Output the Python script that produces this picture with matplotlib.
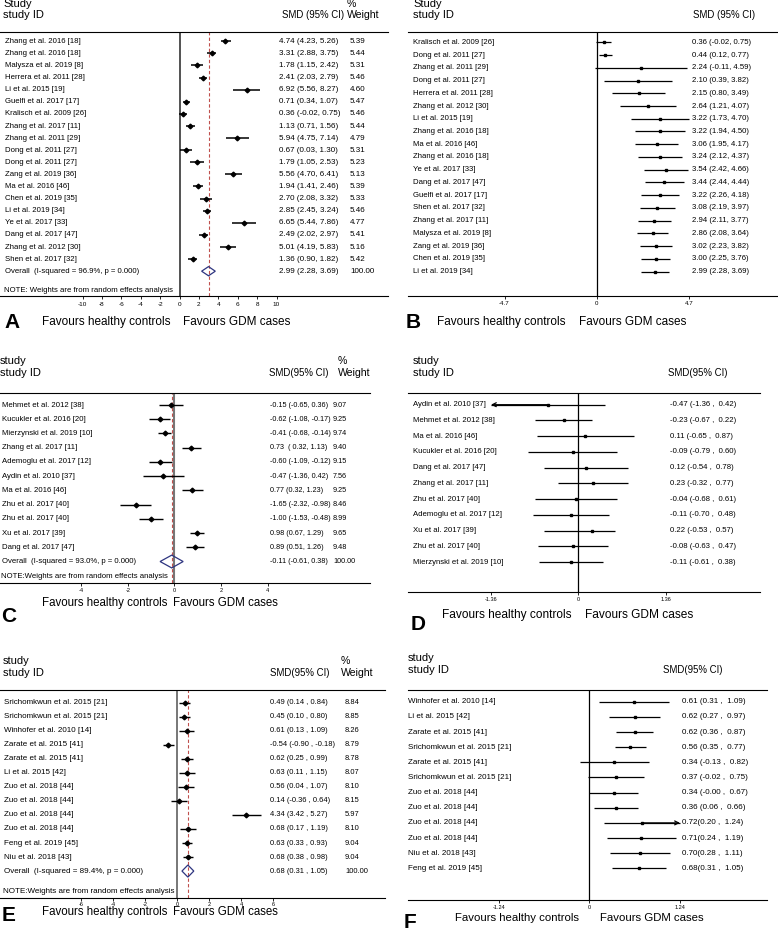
import matplotlib
matplotlib.use('Agg')
import matplotlib.pyplot as plt
from matplotlib.patches import Polygon
from matplotlib import transforms

plt.rcParams['font.family'] = ['Liberation Sans', 'DejaVu Sans']

W, H = 778, 930

# ---------------- panel A ----------------
a_study = ['Zhang et al. 2016 [18]', 'Zhang et al. 2016 [18]', 'Malysza et al. 2019 [8]',
           'Herrera et al. 2011 [28]', 'Li et al. 2015 [19]', 'Guelfi et al. 2017 [17]',
           'Kralisch et al. 2009 [26]', 'Zhang et al. 2017 [11]', 'Zhang et al. 2011 [29]',
           'Dong et al. 2011 [27]', 'Dong et al. 2011 [27]', 'Zang et al. 2019 [36]',
           'Ma et al. 2016 [46]', 'Chen et al. 2019 [35]', 'Li et al. 2019 [34]',
           'Ye et al. 2017 [33]', 'Dang et al. 2017 [47]', 'Zhang et al. 2012 [30]',
           'Shen et al. 2017 [32]']
a_est = [4.74, 3.31, 1.78, 2.41, 6.92, 0.71, 0.36, 1.13, 5.94, 0.67, 1.79, 5.56, 1.94, 2.70, 2.85, 6.65, 2.49, 5.01, 1.36]
a_lo = [4.23, 2.88, 1.15, 2.03, 5.56, 0.34, -0.02, 0.71, 4.75, 0.03, 1.05, 4.70, 1.41, 2.08, 2.45, 5.44, 2.02, 4.19, 0.90]
a_hi = [5.26, 3.75, 2.42, 2.79, 8.27, 1.07, 0.75, 1.56, 7.14, 1.30, 2.53, 6.41, 2.46, 3.32, 3.24, 7.86, 2.97, 5.83, 1.82]
a_ci = ['4.74 (4.23, 5.26)', '3.31 (2.88, 3.75)', '1.78 (1.15, 2.42)', '2.41 (2.03, 2.79)',
        '6.92 (5.56, 8.27)', '0.71 (0.34, 1.07)', '0.36 (-0.02, 0.75)', '1.13 (0.71, 1.56)',
        '5.94 (4.75, 7.14)', '0.67 (0.03, 1.30)', '1.79 (1.05, 2.53)', '5.56 (4.70, 6.41)',
        '1.94 (1.41, 2.46)', '2.70 (2.08, 3.32)', '2.85 (2.45, 3.24)', '6.65 (5.44, 7.86)',
        '2.49 (2.02, 2.97)', '5.01 (4.19, 5.83)', '1.36 (0.90, 1.82)']
a_weight = ['5.39', '5.44', '5.31', '5.46', '4.60', '5.47', '5.46', '5.44', '4.79', '5.31',
            '5.23', '5.13', '5.39', '5.33', '5.46', '4.77', '5.41', '5.16', '5.42']
a_overall = [2.99, 2.28, 3.69]
a_overall_text = ['Overall  (I-squared = 96.9%, p = 0.000)', '2.99 (2.28, 3.69)', '100.00']
a_ticks = [-10, -8, -6, -4, -2, 0, 2, 4, 6, 8, 10]
a_ticklabels = ['-10', '-8', '-6', '-4', '-2', '0', '2', '4', '6', '8', '10']

# ---------------- panel B ----------------
b_study = ['Kralisch et al. 2009 [26]', 'Dong et al. 2011 [27]', 'Zhang et al. 2011 [29]',
           'Dong et al. 2011 [27]', 'Herrera et al. 2011 [28]', 'Zhang et al. 2012 [30]',
           'Li et al. 2015 [19]', 'Zhang et al. 2016 [18]', 'Ma et al. 2016 [46]',
           'Zhang et al. 2016 [18]', 'Ye et al. 2017 [33]', 'Dang et al. 2017 [47]',
           'Guelfi et al. 2017 [17]', 'Shen et al. 2017 [32]', 'Zhang et al. 2017 [11]',
           'Malysza et al. 2019 [8]', 'Zang et al. 2019 [36]', 'Chen et al. 2019 [35]',
           'Li et al. 2019 [34]']
b_est = [0.36, 0.44, 2.24, 2.10, 2.15, 2.64, 3.22, 3.22, 3.06, 3.24, 3.54, 3.44, 3.22, 3.08, 2.94, 2.86, 3.02, 3.00, 2.99]
b_lo = [-0.02, 0.12, -0.11, 0.39, 0.80, 1.21, 1.73, 1.94, 1.95, 2.12, 2.42, 2.44, 2.26, 2.19, 2.11, 2.08, 2.23, 2.25, 2.28]
b_hi = [0.75, 0.77, 4.59, 3.82, 3.49, 4.07, 4.70, 4.50, 4.17, 4.37, 4.66, 4.44, 4.18, 3.97, 3.77, 3.64, 3.82, 3.76, 3.69]
b_ci = ['0.36 (-0.02, 0.75)', '0.44 (0.12, 0.77)', '2.24 (-0.11, 4.59)', '2.10 (0.39, 3.82)',
        '2.15 (0.80, 3.49)', '2.64 (1.21, 4.07)', '3.22 (1.73, 4.70)', '3.22 (1.94, 4.50)',
        '3.06 (1.95, 4.17)', '3.24 (2.12, 4.37)', '3.54 (2.42, 4.66)', '3.44 (2.44, 4.44)',
        '3.22 (2.26, 4.18)', '3.08 (2.19, 3.97)', '2.94 (2.11, 3.77)', '2.86 (2.08, 3.64)',
        '3.02 (2.23, 3.82)', '3.00 (2.25, 3.76)', '2.99 (2.28, 3.69)']
b_ticks = [-4.7, 0, 4.7]
b_ticklabels = ['-4.7', '0', '4.7']

# ---------------- panel C ----------------
c_study = ['Mehmet et al. 2012 [38]', 'Kucukler et al. 2016 [20]', 'Mierzynski et al. 2019 [10]',
           'Zhang et al. 2017 [11]', 'Ademoglu et al. 2017 [12]', 'Aydin et al. 2010 [37]',
           'Ma et al. 2016 [46]', 'Zhu et al. 2017 [40]', 'Zhu et al. 2017 [40]',
           'Xu et al. 2017 [39]', 'Dang et al. 2017 [47]']
c_est = [-0.15, -0.62, -0.41, 0.73, -0.60, -0.47, 0.77, -1.65, -1.00, 0.98, 0.89]
c_lo = [-0.65, -1.08, -0.68, 0.32, -1.09, -1.36, 0.32, -2.32, -1.53, 0.67, 0.51]
c_hi = [0.36, -0.17, -0.14, 1.13, -0.12, 0.42, 1.23, -0.98, -0.48, 1.29, 1.26]
c_ci = ['-0.15 (-0.65, 0.36)', '-0.62 (-1.08, -0.17)', '-0.41 (-0.68, -0.14)', '0.73  ( 0.32, 1.13)',
        '-0.60 (-1.09, -0.12)', '-0.47 (-1.36, 0.42)', '0.77 (0.32, 1.23)', '-1.65 (-2.32, -0.98)',
        '-1.00 (-1.53, -0.48)', '0.98 (0.67, 1.29)', '0.89 (0.51, 1.26)']
c_weight = ['9.07', '9.25', '9.74', '9.40', '9.15', '7.56', '9.25', '8.46', '8.99', '9.65', '9.48']
c_overall = [-0.11, -0.61, 0.38]
c_overall_text = ['Overall  (I-squared = 93.0%, p = 0.000)', '-0.11 (-0.61, 0.38)', '100.00']
c_ticks = [-4, -2, 0, 2, 4]
c_ticklabels = ['-4', '-2', '0', '2', '4']

# ---------------- panel D ----------------
d_study = ['Aydin et al. 2010 [37]', 'Mehmet et al. 2012 [38]', 'Ma et al. 2016 [46]',
           'Kucukler et al. 2016 [20]', 'Dang et al. 2017 [47]', 'Zhang et al. 2017 [11]',
           'Zhu et al. 2017 [40]', 'Ademoglu et al. 2017 [12]', 'Xu et al. 2017 [39]',
           'Zhu et al. 2017 [40]', 'Mierzynski et al. 2019 [10]']
d_est = [-0.47, -0.23, 0.11, -0.09, 0.12, 0.23, -0.04, -0.11, 0.22, -0.08, -0.11]
d_lo = [-1.36, -0.67, -0.65, -0.79, -0.54, -0.32, -0.68, -0.70, -0.53, -0.63, -0.61]
d_hi = [0.42, 0.22, 0.87, 0.60, 0.78, 0.77, 0.61, 0.48, 0.57, 0.47, 0.38]
d_ci = ['-0.47 (-1.36 ,  0.42)', '-0.23 (-0.67 ,  0.22)', '0.11 (-0.65 ,  0.87)', '-0.09 (-0.79 ,  0.60)',
        '0.12 (-0.54 ,  0.78)', '0.23 (-0.32 ,  0.77)', '-0.04 (-0.68 ,  0.61)', '-0.11 (-0.70 ,  0.48)',
        '0.22 (-0.53 ,  0.57)', '-0.08 (-0.63 ,  0.47)', '-0.11 (-0.61 ,  0.38)']
d_arrow_low = [0]
d_ticks = [-1.36, 0, 1.36]
d_ticklabels = ['-1.36', '0', '1.36']

# ---------------- panel E ----------------
e_study = ['Srichomkwun et al. 2015 [21]', 'Srichomkwun et al. 2015 [21]', 'Winhofer et al. 2010 [14]',
           'Zarate et al. 2015 [41]', 'Zarate et al. 2015 [41]', 'Li et al. 2015 [42]',
           'Zuo et al. 2018 [44]', 'Zuo et al. 2018 [44]', 'Zuo et al. 2018 [44]',
           'Zuo et al. 2018 [44]', 'Feng et al. 2019 [45]', 'Niu et al. 2018 [43]']
e_est = [0.49, 0.45, 0.61, -0.54, 0.62, 0.63, 0.56, 0.14, 4.34, 0.68, 0.63, 0.68]
e_lo = [0.14, 0.10, 0.13, -0.90, 0.25, 0.11, 0.04, -0.36, 3.42, 0.17, 0.33, 0.38]
e_hi = [0.84, 0.80, 1.09, -0.18, 0.99, 1.15, 1.07, 0.64, 5.27, 1.19, 0.93, 0.98]
e_ci = ['0.49 (0.14 , 0.84)', '0.45 (0.10 , 0.80)', '0.61 (0.13 , 1.09)', '-0.54 (-0.90 , -0.18)',
        '0.62 (0.25 , 0.99)', '0.63 (0.11 , 1.15)', '0.56 (0.04 , 1.07)', '0.14 (-0.36 , 0.64)',
        '4.34 (3.42 , 5.27)', '0.68 (0.17 , 1.19)', '0.63 (0.33 , 0.93)', '0.68 (0.38 , 0.98)']
e_weight = ['8.84', '8.85', '8.26', '8.79', '8.78', '8.07', '8.10', '8.15', '5.97', '8.10', '9.04', '9.04']
e_overall = [0.68, 0.31, 1.05]
e_overall_text = ['Overall  (I-squared = 89.4%, p = 0.000)', '0.68 (0.31 , 1.05)', '100.00']
e_ticks = [-6, -4, -2, 0, 2, 4, 6]
e_ticklabels = ['-6', '-4', '-2', '0', '2', '4', '6']

# ---------------- panel F ----------------
f_study = ['Winhofer et al. 2010 [14]', 'Li et al. 2015 [42]', 'Zarate et al. 2015 [41]',
           'Srichomkwun et al. 2015 [21]', 'Zarate et al. 2015 [41]', 'Srichomkwun et al. 2015 [21]',
           'Zuo et al. 2018 [44]', 'Zuo et al. 2018 [44]', 'Zuo et al. 2018 [44]',
           'Zuo et al. 2018 [44]', 'Niu et al. 2018 [43]', 'Feng et al. 2019 [45]']
f_est = [0.61, 0.62, 0.62, 0.56, 0.34, 0.37, 0.34, 0.36, 0.72, 0.71, 0.70, 0.68]
f_lo = [0.13, 0.27, 0.36, 0.35, -0.13, -0.02, -0.00, 0.06, 0.20, 0.24, 0.28, 0.31]
f_hi = [1.09, 0.97, 0.87, 0.77, 0.82, 0.75, 0.67, 0.66, 1.24, 1.19, 1.11, 1.05]
f_ci = ['0.61 (0.31 ,  1.09)', '0.62 (0.27 ,  0.97)', '0.62 (0.36 ,  0.87)', '0.56 (0.35 ,  0.77)',
        '0.34 (-0.13 ,  0.82)', '0.37 (-0.02 ,  0.75)', '0.34 (-0.00 ,  0.67)', '0.36 (0.06 ,  0.66)',
        '0.72(0.20 ,  1.24)', '0.71(0.24 ,  1.19)', '0.70(0.28 ,  1.11)', '0.68(0.31 ,  1.05)']
f_arrow_high = [8]
f_ticks = [-1.24, 0, 1.24]
f_ticklabels = ['-1.24', '0', '1.24']

NAVY = '#2e3580'
RED = '#c0504d'

fig = plt.figure(figsize=(W / 100, H / 100), dpi=100)


def fx(px):
    return px / W


def fy(py):
    return 1 - py / H


def ftext(px, py, s, **kw):
    fig.text(fx(px), fy(py), s, va='center', **kw)


def panel(L, study, est, lo, hi, ci, ticks, ticklabels, weight=None, overall=None,
          overall_text=None, arrow_low=(), arrow_high=(), marker='s', ms=2.2, lw=0.9):
    ax = fig.add_axes([fx(L['x0']), fy(L['ybot']), (L['x1'] - L['x0']) / W,
                       (L['ybot'] - L['ytop']) / H])
    ax.set_xlim((L['x0'] - L['zero']) / L['scale'], (L['x1'] - L['zero']) / L['scale'])
    ax.set_ylim((L['ybot'] - L['row0']) / L['dy'], (L['ytop'] - L['row0']) / L['dy'])
    ax.patch.set_alpha(0)
    for s in ['left', 'right']:
        ax.spines[s].set_visible(False)
    for s in ['top', 'bottom']:
        ax.spines[s].set_linewidth(0.8)
    ax.set_yticks([])
    ax.set_xticks(ticks)
    ax.set_xticklabels(ticklabels)
    ax.tick_params(axis='x', direction='out', length=2.5, width=0.6, labelsize=L['tfs'],
                   pad=L['tpad'])

    ax.axvline(0, color=L['zcol'], lw=L['zlw'], zorder=1)
    if overall is not None:
        ax.axvline(overall[0], color=RED, lw=0.8, ls=(0, (3, 2)), zorder=1)

    rows = list(range(len(study)))
    ax.hlines(rows, lo, hi, color='black', lw=lw, zorder=3)
    ax.plot(est, rows, ls='none', marker=marker, ms=ms, color='black', zorder=4)
    for i in arrow_low:
        ax.annotate('', xy=(lo[i], i), xytext=(est[i], i),
                    arrowprops=dict(arrowstyle='->', lw=lw, color='black',
                                    shrinkA=0, shrinkB=0, mutation_scale=7))
    for i in arrow_high:
        ax.annotate('', xy=(hi[i], i), xytext=(est[i], i),
                    arrowprops=dict(arrowstyle='->', lw=lw, color='black',
                                    shrinkA=0, shrinkB=0, mutation_scale=7))

    tr = transforms.blended_transform_factory(fig.transFigure, ax.transData)
    fs, cfs = L['fs'], L['cfs']
    for i, name in enumerate(study):
        ax.text(fx(L['lab_x']), i, name, transform=tr, fontsize=fs, va='center', clip_on=False)
        ax.text(fx(L['ci_x']), i, ci[i], transform=tr, fontsize=cfs, va='center', clip_on=False)
        if weight is not None:
            ax.text(fx(L['w_x']), i, weight[i], transform=tr, fontsize=cfs, va='center',
                    clip_on=False)

    if overall is not None:
        yo = len(study)
        h = L['dh']
        ax.add_patch(Polygon([(overall[1], yo), (overall[0], yo - h), (overall[2], yo),
                              (overall[0], yo + h)], closed=True, fill=False,
                             edgecolor=NAVY, lw=0.9, zorder=4))
        ax.text(fx(L['lab_x']), yo, overall_text[0], transform=tr, fontsize=fs, va='center')
        ax.text(fx(L['ci_x']), yo, overall_text[1], transform=tr, fontsize=cfs, va='center')
        ax.text(fx(L['w_x']), yo, overall_text[2], transform=tr, fontsize=cfs, va='center')
        ftext(L['lab_x'] - 1, L['note_y'], L['note'], fontsize=fs)

    # headers
    ftext(L['head_x'], L['head_y'][0], L['head'], fontsize=8)
    ftext(L['head_x'], L['head_y'][1], 'study ID', fontsize=8)
    ftext(L['smd_x'], L['head_y'][1], L['smd'], fontsize=6.9)
    if weight is not None:
        ftext(L['pct_x'], L['head_y'][0], '%', fontsize=7.6)
        ftext(L['pct_x'], L['head_y'][1], 'Weight', fontsize=7.6)

    ftext(L['fav_x'][0], L['fav_y'], 'Favours healthy controls', fontsize=L['ffs'])
    ftext(L['fav_x'][1], L['fav_y'], 'Favours GDM cases', fontsize=L['ffs'])
    ftext(L['letter'][1], L['letter'][2], L['letter'][0], fontsize=15, fontweight='bold')
    return ax


LA = dict(x0=0, x1=388, ytop=32, ybot=296, zero=179.5, scale=9.7, row0=41.3, dy=12.1,
          lab_x=5, ci_x=279, w_x=350, pct_x=347, head_x=3, head_y=(4, 15.5), head='Study',
          smd='SMD (95% CI)', smd_x=282, note_y=290,
          note='NOTE: Weights are from random effects analysis', fs=5.6, cfs=5.8, tfs=4.6,
          tpad=1.5, zcol='#444444', zlw=1.3, dh=0.38, fav_x=(42, 183), fav_y=322, ffs=8.5,
          letter=('A', 4, 322))
LB = dict(x0=408, x1=778, ytop=32, ybot=295.7, zero=596.7, scale=19.6, row0=42.3, dy=12.74,
          lab_x=413, ci_x=692, head_x=413, head_y=(4, 15.5), head='Study',
          smd='SMD (95% CI)', smd_x=693, fs=5.6, cfs=5.6, tfs=4.4, tpad=1.5,
          zcol='black', zlw=0.9, fav_x=(437, 579), fav_y=322, ffs=8.5, letter=('B', 406, 322))
LC = dict(x0=0, x1=370, ytop=393.3, ybot=583.3, zero=174.3, scale=23.3, row0=405, dy=14.23,
          lab_x=2, ci_x=270, w_x=333, pct_x=338, head_x=0, head_y=(361, 373), head='study',
          smd='SMD(95% CI)', smd_x=269, note_y=576,
          note='NOTE:Weights are from random effects analysis', fs=5.6, cfs=5.2, tfs=4,
          tpad=0.8, zcol='#777777', zlw=1.5, dh=0.45, fav_x=(42, 173), fav_y=603, ffs=8.3,
          letter=('C', 1, 617))
LD = dict(x0=408, x1=760, ytop=393.3, ybot=592.3, zero=578.3, scale=64.2, row0=404.7, dy=15.73,
          lab_x=413, ci_x=670, head_x=413, head_y=(361, 373), head='study',
          smd='SMD(95% CI)', smd_x=668, fs=5.6, cfs=5.6, tfs=4, tpad=1.2,
          zcol='black', zlw=0.9, fav_x=(442, 585), fav_y=615, ffs=8.6, letter=('D', 411, 625))
LE = dict(x0=0, x1=385, ytop=690, ybot=898, zero=177, scale=16, row0=702.7, dy=14.03,
          lab_x=4, ci_x=270, w_x=345, pct_x=341, head_x=3, head_y=(661, 672.5), head='study',
          smd='SMD(95% CI)', smd_x=270, note_y=891.7,
          note='NOTE:Weights are from random effects analysis', fs=5.8, cfs=5.4, tfs=4,
          tpad=0.2, zcol='#777777', zlw=1.4, dh=0.43, fav_x=(42, 173), fav_y=911.5, ffs=8.3,
          letter=('E', 2, 915))
LF = dict(x0=408, x1=767, ytop=690, ybot=900, zero=589.3, scale=73.1, row0=701.7, dy=15.15,
          lab_x=408, ci_x=681.5, head_x=408, head_y=(658, 670), head='study',
          smd='SMD(95% CI)', smd_x=663, fs=5.8, cfs=5.8, tfs=4, tpad=0.8,
          zcol='black', zlw=0.9, fav_x=(455, 600), fav_y=918, ffs=8.2, letter=('F', 404, 922))

panel(LA, a_study, a_est, a_lo, a_hi, a_ci, a_ticks, a_ticklabels, weight=a_weight,
      overall=a_overall, overall_text=a_overall_text, marker='D', ms=2.4, lw=1.1)
panel(LB, b_study, b_est, b_lo, b_hi, b_ci, b_ticks, b_ticklabels, marker='s', ms=2, lw=0.9)
panel(LC, c_study, c_est, c_lo, c_hi, c_ci, c_ticks, c_ticklabels, weight=c_weight,
      overall=c_overall, overall_text=c_overall_text, marker='D', ms=2.4, lw=1.0)
panel(LD, d_study, d_est, d_lo, d_hi, d_ci, d_ticks, d_ticklabels, arrow_low=d_arrow_low,
      marker='s', ms=2, lw=0.9)
panel(LE, e_study, e_est, e_lo, e_hi, e_ci, e_ticks, e_ticklabels, weight=e_weight,
      overall=e_overall, overall_text=e_overall_text, marker='D', ms=2.4, lw=1.0)
panel(LF, f_study, f_est, f_lo, f_hi, f_ci, f_ticks, f_ticklabels, arrow_high=f_arrow_high,
      marker='s', ms=2, lw=0.9)

fig.savefig('out.png', dpi=100)
